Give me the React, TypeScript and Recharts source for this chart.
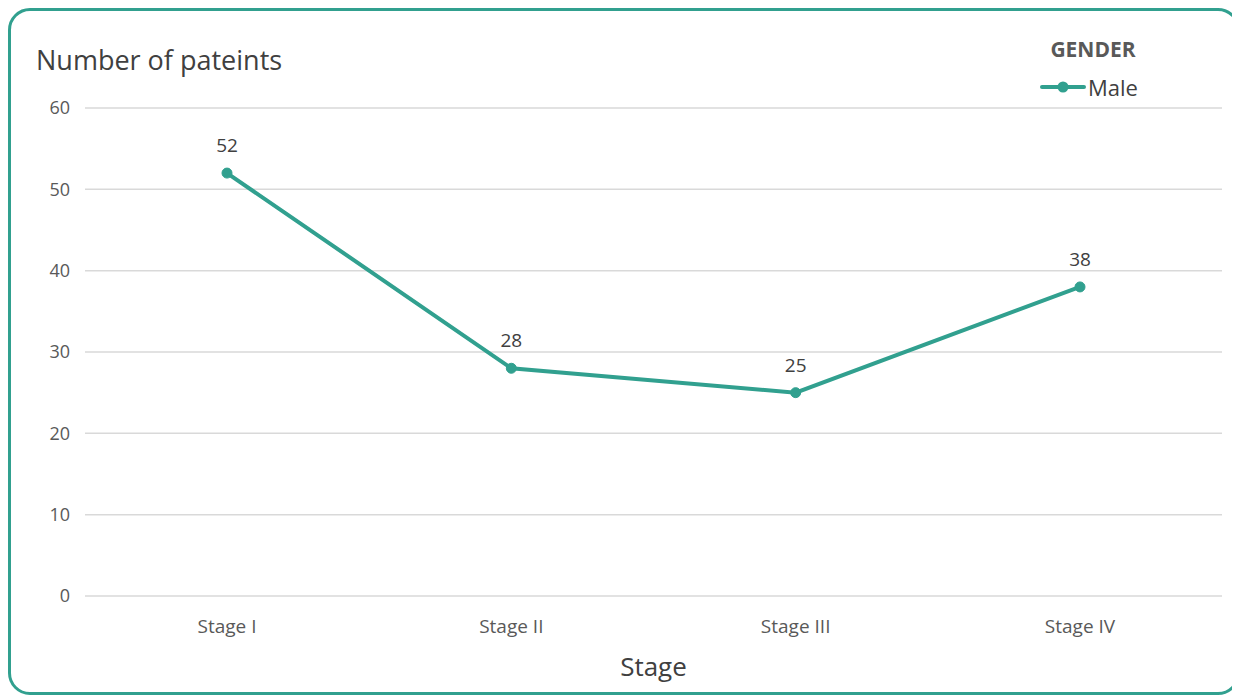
import React from "react";
import { LineChart, Line, XAxis, YAxis, CartesianGrid, LabelList, Label } from "recharts";

const STAGES = ["Stage I", "Stage II", "Stage III", "Stage IV"];
const MALE = [52, 28, 25, 38];
const Y_TICKS = [0, 10, 20, 30, 40, 50, 60];

const TEAL = "#31A08F";
const FONT = "'Open Sans', Lato, sans-serif";

const data = STAGES.map((stage, i) => ({ stage, male: MALE[i] }));

// ─── Chart ────────────────────────────────────────────────────────────────────
const App: React.FC = () => {
  return (
    <div
      style={{
        position: "relative",
        width: 1232,
        height: 687,
        boxSizing: "border-box",
        border: `3px solid ${TEAL}`,
        borderRadius: 22,
        background: "#fff",
        fontFamily: FONT,
        overflow: "hidden",
      }}
    >
      {/* Title */}
      <div
        style={{
          position: "absolute",
          left: 25,
          top: 31,
          fontSize: 27,
          lineHeight: "36px",
          color: "#404040",
        }}
      >
        Number of pateints
      </div>

      {/* Legend */}
      <div
        style={{
          position: "absolute",
          left: 982,
          top: 24,
          width: 200,
          textAlign: "center",
          fontWeight: 700,
          fontSize: 21,
          lineHeight: "29px",
          color: "#595959",
        }}
      >
        GENDER
      </div>
      <svg width={46} height={12} style={{ position: "absolute", left: 1029, top: 70 }}>
        <line x1={2} y1={6} x2={44} y2={6} stroke={TEAL} strokeWidth={4} strokeLinecap="round" />
        <circle cx={23} cy={6} r={5.5} fill={TEAL} />
      </svg>
      <div
        style={{
          position: "absolute",
          left: 1077,
          top: 61,
          fontSize: 22,
          lineHeight: "30px",
          color: "#404040",
        }}
      >
        Male
      </div>

      <div style={{ position: "absolute", left: 0, top: 0 }}>
        <LineChart
          width={1226}
          height={681}
          data={data}
          margin={{ top: 97, right: 15, bottom: 0, left: 0 }}
        >
          <CartesianGrid vertical={false} stroke="#D9D9D9" strokeWidth={1.5} />
          <XAxis
            dataKey="stage"
            axisLine={false}
            tickLine={false}
            tickSize={0}
            tickMargin={24}
            height={96}
            padding={{ left: 142, right: 142 }}
            tick={{ fontSize: 19, fill: "#595959", fontFamily: FONT }}
          >
            <Label
              value="Stage"
              position="insideBottom"
              offset={16}
              style={{ fontSize: 26, fill: "#404040", fontFamily: FONT }}
            />
          </XAxis>
          <YAxis
            domain={[0, 60]}
            ticks={Y_TICKS}
            axisLine={false}
            tickLine={false}
            tickSize={0}
            tickMargin={15}
            width={74}
            tick={{ fontSize: 18, fill: "#595959", fontFamily: FONT }}
          />
          <Line
            dataKey="male"
            stroke={TEAL}
            strokeWidth={4}
            dot={{ r: 5, fill: TEAL, stroke: TEAL, strokeWidth: 1 }}
            isAnimationActive={false}
          >
            <LabelList
              dataKey="male"
              position="top"
              offset={21}
              style={{ fontSize: 19, fill: "#404040", fontFamily: FONT }}
            />
          </Line>
        </LineChart>
      </div>
    </div>
  );
};

export default App;
